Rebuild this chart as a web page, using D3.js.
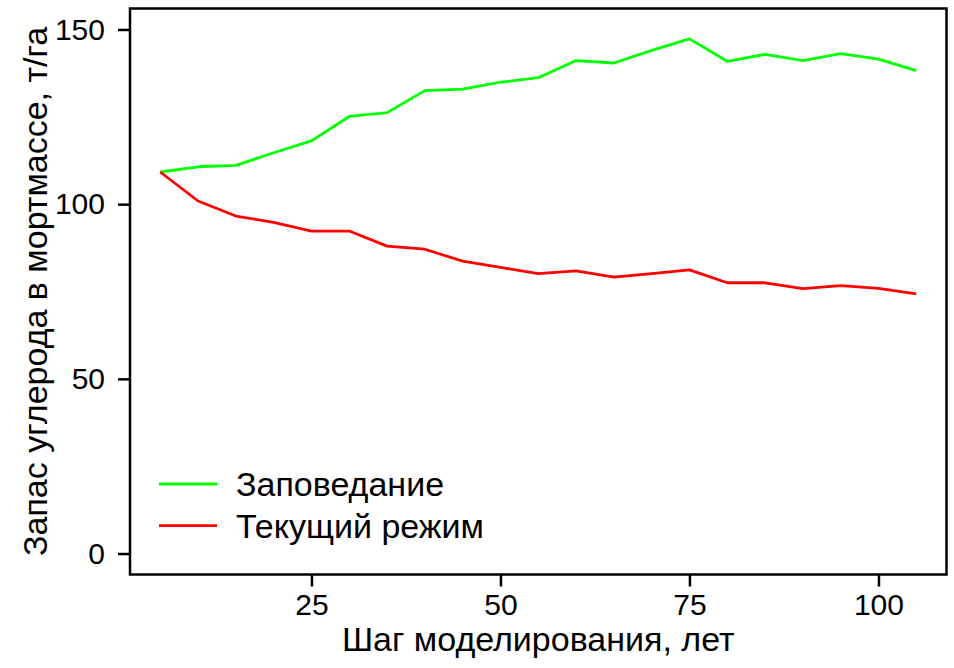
<!DOCTYPE html>
<html>
<head>
<meta charset="utf-8">
<script src="https://cdn.jsdelivr.net/npm/d3@7"></script>
<style>
  body { margin: 0; background: #fff; }
  svg text { font-family: "Liberation Sans", Arial, sans-serif; fill: #000; }
</style>
</head>
<body>
<svg id="chart" width="954" height="668"></svg>
<script>
// шаги моделирования и запасы углерода
const years = [5, 10, 15, 20, 25, 30, 35, 40, 45, 50, 55, 60, 65, 70, 75, 80, 85, 90, 95, 100, 105];
const reserve = [109.2, 110.7, 111.1, 114.7, 118.1, 125.1, 126.2, 132.5, 132.9, 134.9, 136.2, 141.1, 140.4, 144.0, 147.3, 140.9, 142.9, 141.1, 143.1, 141.5, 138.2];
const current = [109.2, 100.9, 96.6, 94.8, 92.3, 92.3, 88.0, 87.1, 83.7, 81.9, 80.1, 80.9, 79.1, 80.1, 81.2, 77.5, 77.5, 75.8, 76.7, 75.9, 74.3];
const seriesNames = ["Заповедание", "Текущий режим"];
const seriesColors = ["#00ff00", "#ff0000"];
const xTicks = [25, 50, 75, 100];
const yTicks = [0, 50, 100, 150];

const svg = d3.select("#chart");
const plotLeft = 130, plotRight = 946.5, plotTop = 8.5, plotBottom = 574.5;

const x = d3.scaleLinear().domain([1, 109]).range([plotLeft, plotRight]);
const y = d3.scaleLinear().domain([-6, 156]).range([plotBottom, plotTop]);

const tickFont = 30;
const labelFont = 34;

// оси
const xAxis = svg.append("g")
    .attr("transform", `translate(0,${plotBottom})`)
    .call(d3.axisBottom(x).tickValues(xTicks).tickSize(12).tickPadding(7).tickFormat(d3.format("d")));
xAxis.select(".domain").remove();
xAxis.selectAll("line").attr("stroke", "#000").attr("stroke-width", 2.5);
xAxis.selectAll("text").attr("font-size", tickFont).attr("font-family", "Liberation Sans, Arial, sans-serif");

const yAxis = svg.append("g")
    .attr("transform", `translate(${plotLeft},0)`)
    .call(d3.axisLeft(y).tickValues(yTicks).tickSize(12).tickPadding(13).tickFormat(d3.format("d")));
yAxis.select(".domain").remove();
yAxis.selectAll("line").attr("stroke", "#000").attr("stroke-width", 2.5);
yAxis.selectAll("text").attr("font-size", tickFont).attr("font-family", "Liberation Sans, Arial, sans-serif");

// линии
const line = d3.line()
    .x((d, i) => x(years[i]))
    .y(d => y(d));

[reserve, current].forEach((vals, k) => {
    svg.append("path")
        .datum(vals)
        .attr("fill", "none")
        .attr("stroke", seriesColors[k])
        .attr("stroke-width", 2.8)
        .attr("stroke-linejoin", "round")
        .attr("d", line);
});

// рамка
svg.append("rect")
    .attr("x", plotLeft).attr("y", plotTop)
    .attr("width", plotRight - plotLeft).attr("height", plotBottom - plotTop)
    .attr("fill", "none").attr("stroke", "#000").attr("stroke-width", 2.5);

// легенда
const legend = svg.append("g");
seriesNames.forEach((name, k) => {
    const ly = 484 + k * 41.7;
    legend.append("line")
        .attr("x1", 159).attr("x2", 217)
        .attr("y1", ly).attr("y2", ly)
        .attr("stroke", seriesColors[k]).attr("stroke-width", 2.8);
    legend.append("text")
        .attr("x", 236).attr("y", ly)
        .attr("dy", "0.35em")
        .attr("font-size", labelFont)
        .text(name);
});

// подписи осей
svg.append("text")
    .attr("x", (plotLeft + plotRight) / 2).attr("y", 651)
    .attr("text-anchor", "middle")
    .attr("font-size", labelFont)
    .text("Шаг моделирования, лет");

svg.append("text")
    .attr("transform", `translate(47,${(plotTop + plotBottom) / 2}) rotate(-90)`)
    .attr("text-anchor", "middle")
    .attr("font-size", labelFont)
    .text("Запас углерода в мортмассе, т/га");
</script>
</body>
</html>
